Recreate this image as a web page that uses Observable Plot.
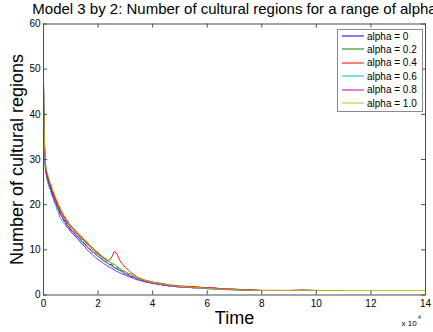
<!DOCTYPE html>
<html><head><meta charset="utf-8">
<script src="https://cdn.jsdelivr.net/npm/d3@7"></script>
<script src="https://cdn.jsdelivr.net/npm/@observablehq/plot@0.6"></script>
<style>
html,body{margin:0;padding:0;background:#fff;overflow:hidden;}
#wrap{position:relative;width:433px;height:332px;overflow:hidden;}
#wrap svg{display:block;}
</style></head><body><div id="wrap"></div>
<script>
// Time (x 10^4)
const time = [0, 0.01, 0.02, 0.03, 0.05, 0.07, 0.1,
  0.15, 0.2, 0.25, 0.3, 0.35, 0.4, 0.45, 0.5, 0.55, 0.6, 0.65, 0.7, 0.75, 0.8, 0.85, 0.9, 0.95, 1.0,
  1.1, 1.2, 1.3, 1.4, 1.5, 1.6, 1.7, 1.8, 1.9, 2.0,
  2.1, 2.2, 2.3, 2.4, 2.5, 2.6, 2.7, 2.8, 2.9, 3.0,
  3.1, 3.2, 3.3, 3.4, 3.5, 3.6, 3.7, 3.8, 3.9, 4.0,
  4.1, 4.2, 4.3, 4.4, 4.5, 4.6, 4.7, 4.8, 4.9, 5.0,
  5.25, 5.5, 5.75, 6.0, 6.25, 6.5, 6.75, 7.0, 7.25, 7.5, 7.75, 8.0,
  8.5, 9, 9.5, 10, 10.5, 11, 11.5, 12, 13, 14];

const labels = ["alpha = 0", "alpha = 0.2", "alpha = 0.4", "alpha = 0.6", "alpha = 0.8", "alpha = 1.0"];
const colors = ["#0000ff", "#008000", "#ff0000", "#00bfbf", "#bf00bf", "#bfbf00"];

// Number of cultural regions, one list per alpha
const alpha00 = [48, 41, 37, 34, 31, 28.5, 27,
  25.6, 24.4, 24.0, 22.6, 22.0, 20.8, 20.5, 19.4, 19.0, 17.9, 17.6, 17.2, 16.4, 16.5, 15.6, 15.3, 15.0, 14.4,
  14.0, 13.1, 12.8, 11.8, 11.5, 10.6, 10.2, 9.4, 9.3, 8.5,
  8.2, 7.5, 7.4, 6.8, 6.7, 6.0, 5.9, 5.4, 5.3, 4.7,
  4.6, 4.1, 4.1, 3.6, 3.6, 3.2, 3.2, 2.9, 2.9, 2.6,
  2.6, 2.4, 2.5, 2.2, 2.2, 2.0, 2.1, 1.9, 1.9, 1.8,
  1.8, 1.6, 1.6, 1.4, 1.4, 1.3, 1.2, 1.2, 1.1, 1.0, 1.0, 1.0];
const alpha02 = [47, 41, 37, 34.5, 31.5, 29, 27.5,
  26.5, 25.3, 24.6, 23.6, 22.4, 22.1, 21.0, 20.6, 19.5, 19.3, 18.2, 18.1, 17.2, 17.3, 16.4, 16.2, 15.5, 15.4,
  14.6, 14.1, 13.2, 12.9, 11.9, 11.7, 10.8, 10.5, 9.6, 9.4,
  8.6, 8.4, 7.7, 7.5, 6.9, 6.8, 6.1, 5.9, 5.4, 5.2,
  4.8, 4.6, 4.2, 4.0, 3.7, 3.6, 3.3, 3.2, 3.0, 2.9,
  2.7, 2.7, 2.5, 2.5, 2.3, 2.2, 2.1, 2.1, 2.0, 1.9,
  1.9, 1.8, 1.7, 1.6, 1.5, 1.4, 1.3, 1.3, 1.2, 1.1, 1.1, 1.0,
  1.0, 1.0, 1.1, 1.0, 1.0, 1.0];
const alpha04 = [47.5, 42, 38, 35, 31, 29, 27.5,
  26.2, 25.2, 24.4, 23.4, 22.8, 21.6, 21.2, 20.1, 19.8, 18.7, 18.5, 17.6, 17.4, 16.6, 16.6, 15.7, 15.6, 14.9,
  14.5, 13.6, 13.3, 12.4, 12.1, 11.2, 10.9, 10.0, 9.8, 9.0,
  8.7, 8.0, 7.9, 7.6, 8.4, 9.7, 9.0, 7.6, 6.8, 6.1,
  5.6, 5.0, 4.6, 4.1, 3.8, 3.5, 3.3, 3.1, 3.0, 2.8,
  2.7, 2.6, 2.6, 2.4, 2.4, 2.2, 2.2, 2.1, 2.1, 2.0,
  1.9, 1.9, 1.7, 1.6, 1.6, 1.4, 1.4, 1.3, 1.2, 1.2, 1.1, 1.0,
  1.0, 1.0];
const alpha06 = [47, 40, 35, 32, 29.5, 27.5, 26.5,
  25.0, 23.8, 23.2, 22.0, 21.5, 20.2, 19.8, 18.7, 18.3, 17.1, 16.8, 16.2, 15.8, 15.6, 15.0, 14.9, 14.3, 14.1,
  13.4, 13.0, 12.2, 11.9, 11.0, 10.7, 10.0, 9.6, 9.0, 8.7,
  8.0, 7.7, 7.1, 6.9, 6.3, 6.1, 5.6, 5.4, 4.9, 4.7,
  4.3, 4.1, 3.8, 3.6, 3.4, 3.2, 3.0, 2.9, 2.7, 2.6,
  2.5, 2.4, 2.3, 2.2, 2.1, 2.0, 2.0, 1.9, 1.8, 1.8,
  1.7, 1.6, 1.5, 1.4, 1.3, 1.3, 1.2, 1.1, 1.1, 1.0, 1.0, 1.0,
  1.0];
const alpha08 = [47, 39, 36, 33, 30.5, 28, 26.8,
  25.7, 24.8, 23.6, 23.0, 21.8, 21.3, 20.2, 19.8, 18.8, 18.4, 17.4, 17.1, 16.4, 16.0, 15.3, 15.0, 14.5, 14.1,
  13.4, 12.7, 12.1, 11.3, 10.8, 10.0, 9.4, 8.9, 8.3, 7.9,
  7.4, 7.0, 6.6, 6.2, 5.9, 5.5, 5.2, 4.9, 4.6, 4.4,
  4.1, 3.9, 3.7, 3.4, 3.3, 3.1, 2.9, 2.8, 2.7, 2.5,
  2.5, 2.3, 2.3, 2.1, 2.1, 2.0, 1.9, 1.9, 1.8, 1.8,
  1.7, 1.6, 1.6, 1.5, 1.4, 1.3, 1.2, 1.2, 1.1, 1.1, 1.0, 1.0,
  1.0, 1.0, 1.1, 1.0];
const alpha10 = [46.5, 42, 38, 35, 32, 29.5, 28,
  26.8, 25.9, 24.8, 24.2, 23.0, 22.6, 21.5, 21.1, 20.1, 19.8, 18.8, 18.5, 17.6, 17.4, 16.6, 16.4, 15.7, 15.5,
  14.8, 14.3, 13.5, 13.1, 12.3, 11.9, 11.0, 10.6, 9.9, 9.5,
  8.9, 8.4, 8.0, 7.5, 7.1, 6.7, 6.3, 5.9, 5.5, 5.2,
  4.8, 4.5, 4.2, 4.0, 3.7, 3.5, 3.3, 3.1, 2.9, 2.8,
  2.7, 2.6, 2.5, 2.4, 2.3, 2.2, 2.1, 2.0, 2.0, 1.9,
  1.8, 1.7, 1.6, 1.5, 1.4, 1.3, 1.3, 1.2, 1.1, 1.1, 1.0, 1.0,
  1.0, 1.0, 1.0, 1.0, 1.0, 1.0, 1.0, 1.0, 1.0, 1.0];

const series = [alpha00, alpha02, alpha04, alpha06, alpha08, alpha10];
const xTicks = [0, 2, 4, 6, 8, 10, 12, 14];
const yTicks = [0, 10, 20, 30, 40, 50, 60];
const title = "Model 3 by 2: Number of cultural regions for a range of alpha";
const xLabel = "Time";
const yLabel = "Number of cultural regions";

const rows = [];
series.forEach((vals, k) => vals.forEach((v, i) => {
  if (i < time.length) rows.push({t: time[i], n: v, s: labels[k]});
}));

const W = 433, H = 332, mL = 43, mR = 8, mT = 23.5, mB = 37.5;
const fw = W - mL - mR, fh = H - mT - mB;
const axisColor = "#4d4d4d";
const font = "'Liberation Sans', Arial, Helvetica, sans-serif";

const chart = Plot.plot({
  width: W, height: H,
  marginLeft: mL, marginRight: mR, marginTop: mT, marginBottom: mB,
  x: {domain: [0, 14], label: null},
  y: {domain: [0, 60], label: null},
  color: {domain: labels, range: colors},
  style: {fontFamily: font, fontSize: "10px", color: "black", background: "white"},
  marks: [
    Plot.line(rows, {x: "t", y: "n", z: "s", stroke: "s", strokeWidth: 0.9}),
    Plot.frame({stroke: axisColor}),
    Plot.tickX(xTicks, {x: d => d, insetTop: fh - 4, stroke: axisColor}),
    Plot.tickX(xTicks, {x: d => d, insetBottom: fh - 4, stroke: axisColor}),
    Plot.tickY(yTicks, {y: d => d, insetRight: fw - 4, stroke: axisColor}),
    Plot.tickY(yTicks, {y: d => d, insetLeft: fw - 4, stroke: axisColor}),
    Plot.axisX(xTicks, {anchor: "bottom", tickSize: 0, tickPadding: 5, label: null, fill: "black"}),
    Plot.axisY(yTicks, {anchor: "left", tickSize: 0, tickPadding: 3, label: null, fill: "black"}),
    Plot.text([xLabel], {text: d => d, frameAnchor: "bottom", textAnchor: "middle", lineAnchor: "middle", dy: 23, fontSize: 18, fill: "black"}),
    Plot.text([yLabel], {text: d => d, frameAnchor: "left", textAnchor: "middle", lineAnchor: "middle", rotate: -90, dx: -26, fontSize: 18, fill: "black"}),
    Plot.text([title], {text: d => d, frameAnchor: "top", textAnchor: "middle", lineAnchor: "middle", dy: -15.3, fontSize: 15, fill: "black"}),
    Plot.text(["x 10"], {text: d => d, frameAnchor: "bottom-right", textAnchor: "start", lineAnchor: "middle", dx: -24, dy: 28, fontSize: 8, fill: "black"}),
    Plot.text(["4"], {text: d => d, frameAnchor: "bottom-right", textAnchor: "start", lineAnchor: "middle", dx: -7.5, dy: 22, fontSize: 5, fill: "black"})
  ]
});
document.getElementById("wrap").appendChild(chart);

// Legend box (top-right, inside the axes)
const svg = d3.select(chart);
const lx = 337, ly = 29, lw = 85, lh = 82, rowH = 13.4;
const g = svg.append("g").attr("font-family", font).attr("font-size", 10).attr("text-anchor", "start");
g.append("rect").attr("x", lx + 0.5).attr("y", ly + 0.5).attr("width", lw).attr("height", lh)
  .attr("fill", "white").attr("stroke", "#8a8a8a");
labels.forEach((lab, k) => {
  const cy = ly + 7 + k * rowH;
  g.append("line").attr("x1", lx + 5).attr("x2", lx + 27).attr("y1", Math.round(cy)).attr("y2", Math.round(cy))
    .attr("stroke", colors[k]).attr("stroke-width", 1);
  g.append("text").attr("x", lx + 30).attr("y", cy).attr("dy", "0.35em").attr("text-anchor", "start")
    .attr("fill", "black").text(lab);
});
</script></body></html>
